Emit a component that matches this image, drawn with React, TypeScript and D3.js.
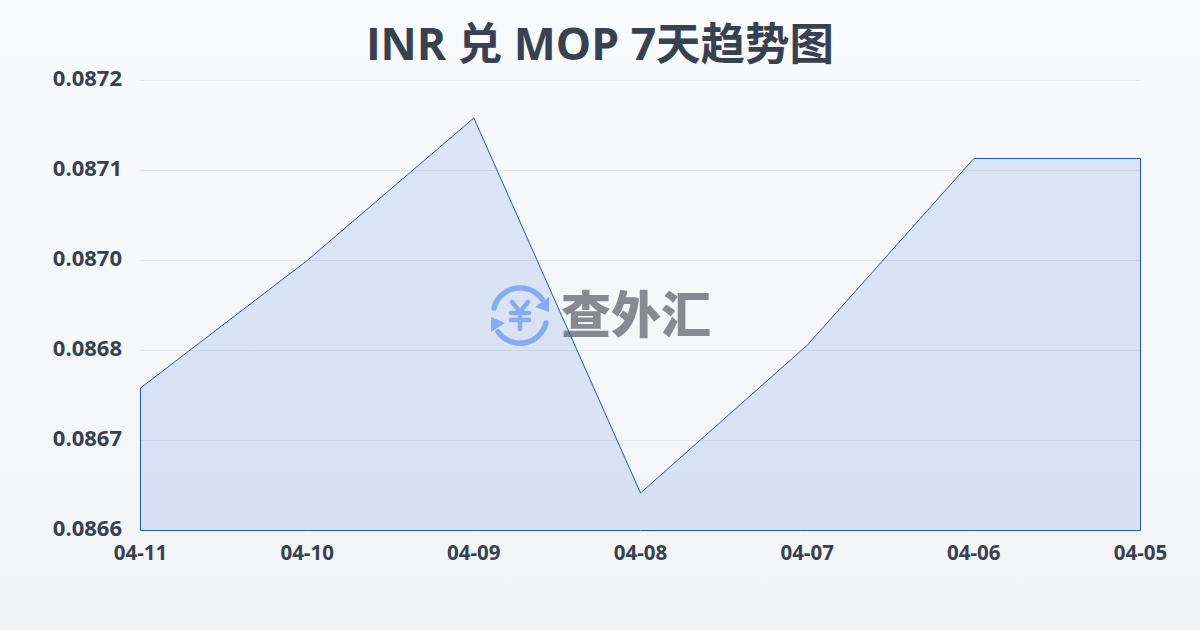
import React from "react";
import * as d3 from "d3";

const categories = ["04-11", "04-10", "04-09", "04-08", "04-07", "04-06", "04-05"];
const rates = [0.08679, 0.08696, 0.08715, 0.08665, 0.086847, 0.087096, 0.087096];
const yTicks = [0.0866, 0.08672, 0.08684, 0.08696, 0.08708, 0.0872];
const titleText = "INR 兑 MOP 7天趋势图";
const brandText = "查外汇";

const W = 1200, H = 630;
const FONT = '"Open Sans", "Noto Sans CJK SC", sans-serif';

export default function App() {
  const x = d3.scalePoint<string>().domain(categories).range([140.5, 1140.5]);
  const y = d3.scaleLinear().domain([0.0866, 0.0872]).range([530.5, 80.5]);
  const pts = categories.map((c, i) => [x(c) as number, y(rates[i])] as [number, number]);
  const area = d3.area<[number, number]>().x(d => d[0]).y1(d => d[1]).y0(530.5)(pts) as string;
  return (
    <svg width={W} height={H} viewBox={`0 0 ${W} ${H}`} style={{ position: "fixed", left: 0, top: 0, display: "block" }}>
      <defs>
        <linearGradient id="bg" x1="0" y1="0" x2="0" y2="1">
          <stop offset="0" stopColor="#f9fafb" />
          <stop offset="1" stopColor="#f3f4f6" />
        </linearGradient>
      </defs>
      <rect width={W} height={H} fill="url(#bg)" />
      <text x={600} y={60} textAnchor="middle" fontFamily={FONT} fontWeight={700} fontSize={44.5} fill="#374151">{titleText}</text>
      {yTicks.map(t => (
        <line key={t} x1={140} x2={1140} y1={y(t)} y2={y(t)} stroke="#e5e7eb" strokeWidth={1} />
      ))}
      {yTicks.map(t => (
        <text key={t} x={122} y={y(t) + 5.5} textAnchor="end" fontFamily={FONT} fontWeight={700} fontSize={22} fill="#374151">{t.toFixed(4)}</text>
      ))}
      {categories.map(c => (
        <text key={c} x={x(c)} y={560} textAnchor="middle" fontFamily={FONT} fontWeight={700} fontSize={20.5} fill="#374151">{c}</text>
      ))}
      <g>
        <g fill="none" stroke="#93b8f8" strokeWidth={5.5} strokeLinecap="round">
          <path d="M494 308 A27 27 0 0 1 542 299" />
          <path d="M546 323 A27 27 0 0 1 498 332" />
          <path d="M512 302 L520 312 L528 302 M520 312 V329 M511 313 H529 M511 320 H529" strokeWidth={4.5} />
        </g>
        <path d="M549 297 L549 312 L535 307 Z M491 332 L491 317 L505 323 Z" fill="#93b8f8" />
        <text x={636} y={333} textAnchor="middle" fontFamily={FONT} fontWeight={900} fontSize={50} fill="#858a93">{brandText}</text>
      </g>
      <path d={area} fill="#1d5ad8" fillOpacity={0.13} stroke="#2455b8" strokeWidth={1} />
    </svg>
  );
}
